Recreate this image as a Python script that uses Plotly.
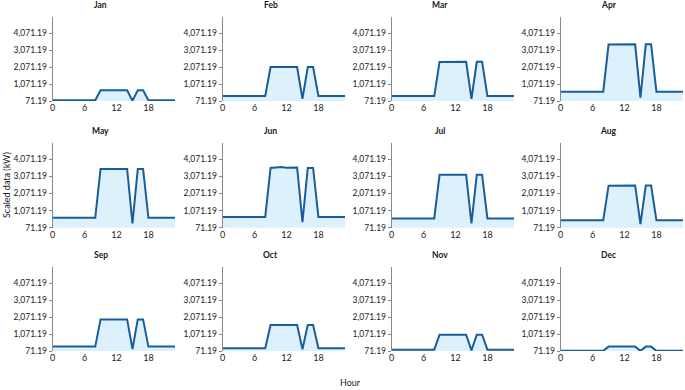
import plotly.graph_objects as go
from plotly.subplots import make_subplots

hours = list(range(24))
months = ["Jan", "Feb", "Mar", "Apr", "May", "Jun",
          "Jul", "Aug", "Sep", "Oct", "Nov", "Dec"]

# hourly profiles per month (kW)
jan = [110, 110, 110, 110, 110, 110, 110, 110, 110, 700, 705, 710, 705, 700, 700, 90, 700, 700, 110, 110, 110, 110, 110, 110]
feb = [370, 370, 370, 370, 370, 370, 370, 370, 370, 2080, 2080, 2080, 2080, 2080, 2080, 200, 2080, 2080, 370, 370, 370, 370, 370, 370]
mar = [370, 370, 365, 365, 365, 360, 360, 360, 360, 2380, 2390, 2390, 2390, 2390, 2390, 200, 2390, 2390, 360, 360, 360, 360, 360, 360]
apr = [620, 620, 620, 620, 620, 620, 620, 620, 620, 3410, 3420, 3420, 3420, 3420, 3420, 270, 3420, 3420, 620, 620, 620, 620, 620, 620]
may = [650, 650, 650, 650, 650, 650, 650, 650, 650, 3490, 3490, 3490, 3490, 3490, 3490, 320, 3490, 3490, 650, 650, 650, 650, 650, 650]
jun = [700, 700, 700, 700, 700, 700, 700, 700, 700, 3550, 3560, 3600, 3560, 3570, 3580, 400, 3550, 3550, 700, 700, 700, 700, 700, 700]
jul = [610, 610, 610, 610, 610, 610, 610, 610, 610, 3150, 3150, 3150, 3150, 3150, 3150, 320, 3150, 3150, 610, 610, 610, 610, 610, 610]
aug = [510, 510, 510, 510, 510, 510, 510, 510, 510, 2520, 2530, 2520, 2530, 2530, 2530, 280, 2530, 2530, 510, 510, 510, 510, 510, 510]
sep = [330, 330, 330, 330, 330, 335, 330, 330, 330, 1940, 1940, 1940, 1930, 1940, 1940, 190, 1940, 1940, 330, 330, 330, 330, 330, 330]
oct_ = [230, 230, 230, 230, 230, 230, 230, 230, 230, 1610, 1610, 1610, 1610, 1610, 1610, 170, 1610, 1610, 230, 230, 230, 230, 230, 230]
nov = [150, 150, 150, 150, 150, 150, 150, 150, 150, 1030, 1030, 1030, 1030, 1030, 1030, 110, 1030, 1030, 150, 150, 150, 150, 150, 150]
dec = [80, 80, 80, 80, 80, 80, 80, 80, 80, 330, 330, 320, 320, 320, 330, 80, 330, 330, 80, 80, 80, 80, 80, 80]
profiles = [jan, feb, mar, apr, may, jun, jul, aug, sep, oct_, nov, dec]

y_ticks = [71.19, 1071.19, 2071.19, 3071.19, 4071.19]
x_ticks = [0, 6, 12, 18]

W, H = 685, 390
col_px = [(52.7, 175), (222.7, 345), (391.7, 514), (560.7, 683)]
row_px = [(17.3, 101), (142.7, 227.7), (267.3, 351)]

fig = make_subplots(rows=3, cols=4)

font = "Lato"
for i, (name, vals) in enumerate(zip(months, profiles)):
    r, c = i // 4 + 1, i % 4 + 1
    fig.add_trace(go.Scatter(
        x=hours, y=vals, mode="lines", fill="tozeroy",
        fillcolor="#dcf1fb",
        line=dict(color="#1a5c9c", width=2),
        showlegend=False, hoverinfo="skip"), row=r, col=c)
    x0, x1 = col_px[c - 1]
    yt, yb = row_px[r - 1]
    fig.update_xaxes(domain=[x0 / W, x1 / W], range=[0, 23], automargin=False,
                     tickvals=x_ticks, showgrid=False, zeroline=False,
                     showline=False, ticks="", tickfont=dict(size=9, color="#1a1a1a"),
                     row=r, col=c)
    fig.update_yaxes(domain=[1 - yb / H, 1 - yt / H], range=[71.19, 5020],
                     automargin=False,
                     tickvals=y_ticks, tickformat=",.2f", showgrid=False,
                     zeroline=False, showline=True, linecolor="#888",
                     linewidth=1, ticks="outside", ticklen=3, tickcolor="#888",
                     tickfont=dict(size=8.5, color="#1a1a1a"), row=r, col=c)
    fig.add_annotation(text="<b>" + name + "</b>", xref="paper", yref="paper",
                       x=((x0 + x1) / 2 - 13) / W, y=1 - (yt - 12) / H,
                       showarrow=False, font=dict(size=8.5, color="#1a1a1a"),
                       xanchor="center", yanchor="middle")

fig.add_annotation(text="Scaled data (kW)", xref="paper", yref="paper",
                   x=6 / W, y=1 - 185 / H, textangle=-90, showarrow=False,
                   xanchor="center", yanchor="middle",
                   font=dict(size=9, color="#1a1a1a"))
fig.add_annotation(text="Hour", xref="paper", yref="paper",
                   x=350 / W, y=1 - 382 / H, showarrow=False,
                   xanchor="center", yanchor="middle",
                   font=dict(size=9, color="#1a1a1a"))

fig.update_layout(width=W, height=H, margin=dict(l=0, r=0, t=0, b=0),
                  plot_bgcolor="white", paper_bgcolor="white",
                  font=dict(family=font))

# drop the default page margin so the figure sits at the window's corner
fig.write_html("out.html", config={"displayModeBar": False},
               post_script="document.body.style.margin='0';document.body.style.overflow='hidden';")
